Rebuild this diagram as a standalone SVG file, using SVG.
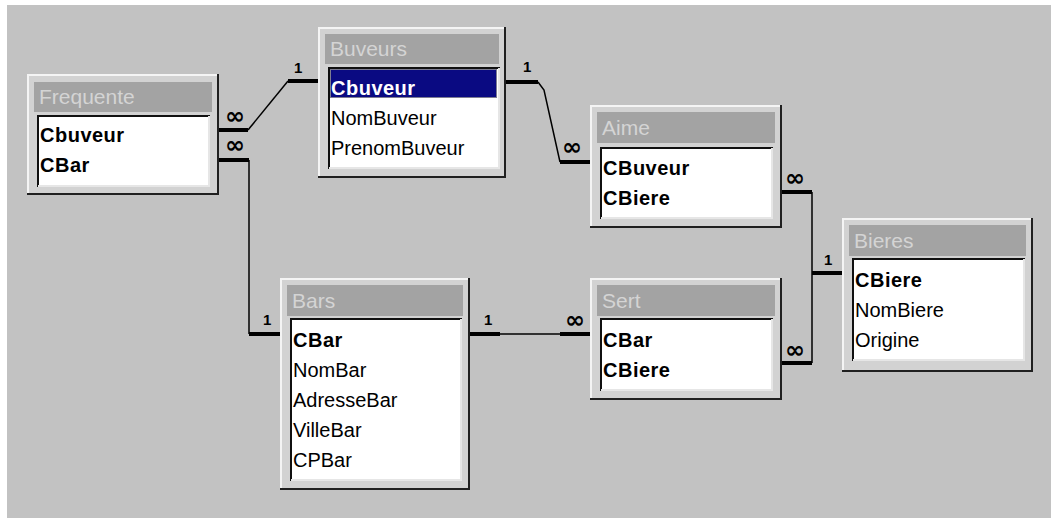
<svg xmlns="http://www.w3.org/2000/svg" width="1051" height="518" viewBox="0 0 1051 518">
<defs>
<style>
.frame{fill:#d2d2d2}
.hl{stroke:#f4f4f4;stroke-width:2;fill:none}
.sh{stroke:#202020;stroke-width:2;fill:none}
.tbar{fill:#a3a3a3}
.ttl{font-family:"Liberation Sans",Arial,sans-serif;font-size:21px;fill:#d4d4d4}
.body{fill:#ffffff}
.sunk{stroke:#101010;stroke-width:2;fill:none}
.sunkl{stroke:#e6e6e6;stroke-width:2;fill:none}
.fld{font-family:"Liberation Sans",Arial,sans-serif;font-size:20px;fill:#000}
.key{font-family:"Liberation Sans",Arial,sans-serif;font-size:20px;font-weight:bold;fill:#000;letter-spacing:0.5px}
.thick{stroke:#000;stroke-width:4;fill:none}
.thin{stroke:#000;stroke-width:1.5;fill:none}
.one{font-family:"Liberation Sans",Arial,sans-serif;font-size:15px;font-weight:bold;fill:#000}
.inf{font-family:"DejaVu Sans",sans-serif;font-size:24px;font-weight:bold;fill:#000}
</style>
</defs>
<rect x="0" y="0" width="1051" height="518" fill="#ffffff"/>
<rect x="7" y="5" width="1044" height="513" fill="#c2c2c2"/>

<g id="connectors">
  <!-- Frequente - Buveurs -->
  <polyline class="thick" points="219,130 248,130"/>
  <polyline class="thin" points="248,130 288,81"/>
  <polyline class="thick" points="288,81 318,81"/>
  <text class="one" x="294" y="73">1</text>
  <text class="inf" x="225" y="124">∞</text>
  <!-- Frequente - Bars -->
  <polyline class="thick" points="219,160 249,160"/>
  <polyline class="thin" points="249,160 249,334"/>
  <polyline class="thick" points="249,334 280,334"/>
  <text class="inf" x="225" y="153">∞</text>
  <text class="one" x="263" y="325">1</text>
  <!-- Buveurs - Aime -->
  <polyline class="thick" points="506,82 538,82"/>
  <polyline class="thin" points="538,82 544,90 560,162"/>
  <polyline class="thick" points="560,162 590,162"/>
  <text class="one" x="523" y="72">1</text>
  <text class="inf" x="562" y="155">∞</text>
  <!-- Bars - Sert -->
  <polyline class="thick" points="470,334 500,334"/>
  <polyline class="thin" points="500,334 560,334"/>
  <polyline class="thick" points="560,334 590,334"/>
  <text class="one" x="484" y="325">1</text>
  <text class="inf" x="565" y="328">∞</text>
  <!-- Aime/Sert - Bieres -->
  <polyline class="thick" points="782,192 812,192"/>
  <polyline class="thin" points="812,192 812,363"/>
  <polyline class="thick" points="782,363 812,363"/>
  <polyline class="thick" points="812,273 842,273"/>
  <text class="inf" x="785" y="186">∞</text>
  <text class="inf" x="785" y="358">∞</text>
  <text class="one" x="824" y="265">1</text>
</g>

<g id="Frequente" transform="translate(27,74)">
  <rect class="frame" x="0" y="0" width="192" height="121"/>
  <polyline class="hl" points="1,120 1,1 191,1"/>
  <polyline class="sh" points="0,120 191,120 191,0"/>
  <rect class="tbar" x="7" y="8" width="178" height="30"/>
  <text class="ttl" x="12" y="30">Frequente</text>
  <rect class="body" x="10" y="41" width="173" height="72"/>
  <polyline class="sunk" points="11,113 11,42 183,42"/>
  <polyline class="sunkl" points="11,112 182,112 182,42"/>
  <text class="key" x="13" y="68">Cbuveur</text>
  <text class="key" x="13" y="98">CBar</text>
</g>

<g id="Buveurs" transform="translate(318,27)">
  <rect class="frame" x="0" y="0" width="188" height="151"/>
  <polyline class="hl" points="1,150 1,1 187,1"/>
  <polyline class="sh" points="0,150 187,150 187,0"/>
  <rect class="tbar" x="7" y="7" width="174" height="30"/>
  <text class="ttl" x="12" y="29">Buveurs</text>
  <rect class="body" x="10" y="40" width="172" height="102"/>
  <polyline class="sunk" points="11,142 11,41 182,41"/>
  <polyline class="sunkl" points="11,141 181,141 181,41"/>
  <rect x="12" y="42" width="167" height="29" fill="#0a0a82"/>
  <rect x="12.5" y="42.5" width="166" height="28" fill="none" stroke="#f0f0a0" stroke-width="1" stroke-dasharray="1,1"/>
  <text class="key" x="13" y="68" style="fill:#ffffff">Cbuveur</text>
  <text class="fld" x="13" y="98">NomBuveur</text>
  <text class="fld" x="13" y="128">PrenomBuveur</text>
</g>

<g id="Aime" transform="translate(590,105)">
  <rect class="frame" x="0" y="0" width="192" height="123"/>
  <polyline class="hl" points="1,122 1,1 191,1"/>
  <polyline class="sh" points="0,122 191,122 191,0"/>
  <rect class="tbar" x="7" y="7" width="178" height="31"/>
  <text class="ttl" x="12" y="30">Aime</text>
  <rect class="body" x="10" y="42" width="173" height="72"/>
  <polyline class="sunk" points="11,114 11,43 183,43"/>
  <polyline class="sunkl" points="11,113 182,113 182,43"/>
  <text class="key" x="13" y="70">CBuveur</text>
  <text class="key" x="13" y="100">CBiere</text>
</g>

<g id="Bieres" transform="translate(842,218)">
  <rect class="frame" x="0" y="0" width="191" height="154"/>
  <polyline class="hl" points="1,153 1,1 190,1"/>
  <polyline class="sh" points="0,153 190,153 190,0"/>
  <rect class="tbar" x="7" y="7" width="177" height="31"/>
  <text class="ttl" x="12" y="30">Bieres</text>
  <rect class="body" x="10" y="40" width="173" height="103"/>
  <polyline class="sunk" points="11,143 11,41 183,41"/>
  <polyline class="sunkl" points="11,142 182,142 182,41"/>
  <text class="key" x="13" y="69">CBiere</text>
  <text class="fld" x="13" y="99">NomBiere</text>
  <text class="fld" x="13" y="129">Origine</text>
</g>

<g id="Sert" transform="translate(590,278)">
  <rect class="frame" x="0" y="0" width="192" height="122"/>
  <polyline class="hl" points="1,121 1,1 191,1"/>
  <polyline class="sh" points="0,121 191,121 191,0"/>
  <rect class="tbar" x="7" y="7" width="178" height="31"/>
  <text class="ttl" x="12" y="30">Sert</text>
  <rect class="body" x="10" y="40" width="173" height="73"/>
  <polyline class="sunk" points="11,113 11,41 183,41"/>
  <polyline class="sunkl" points="11,112 182,112 182,41"/>
  <text class="key" x="13" y="69">CBar</text>
  <text class="key" x="13" y="99">CBiere</text>
</g>

<g id="Bars" transform="translate(280,278)">
  <rect class="frame" x="0" y="0" width="190" height="212"/>
  <polyline class="hl" points="1,211 1,1 189,1"/>
  <polyline class="sh" points="0,211 189,211 189,0"/>
  <rect class="tbar" x="7" y="7" width="176" height="31"/>
  <text class="ttl" x="12" y="30">Bars</text>
  <rect class="body" x="10" y="40" width="172" height="163"/>
  <polyline class="sunk" points="11,203 11,41 182,41"/>
  <polyline class="sunkl" points="11,202 181,202 181,41"/>
  <text class="key" x="13" y="69">CBar</text>
  <text class="fld" x="13" y="99">NomBar</text>
  <text class="fld" x="13" y="129">AdresseBar</text>
  <text class="fld" x="13" y="159">VilleBar</text>
  <text class="fld" x="13" y="189">CPBar</text>
</g>
</svg>
